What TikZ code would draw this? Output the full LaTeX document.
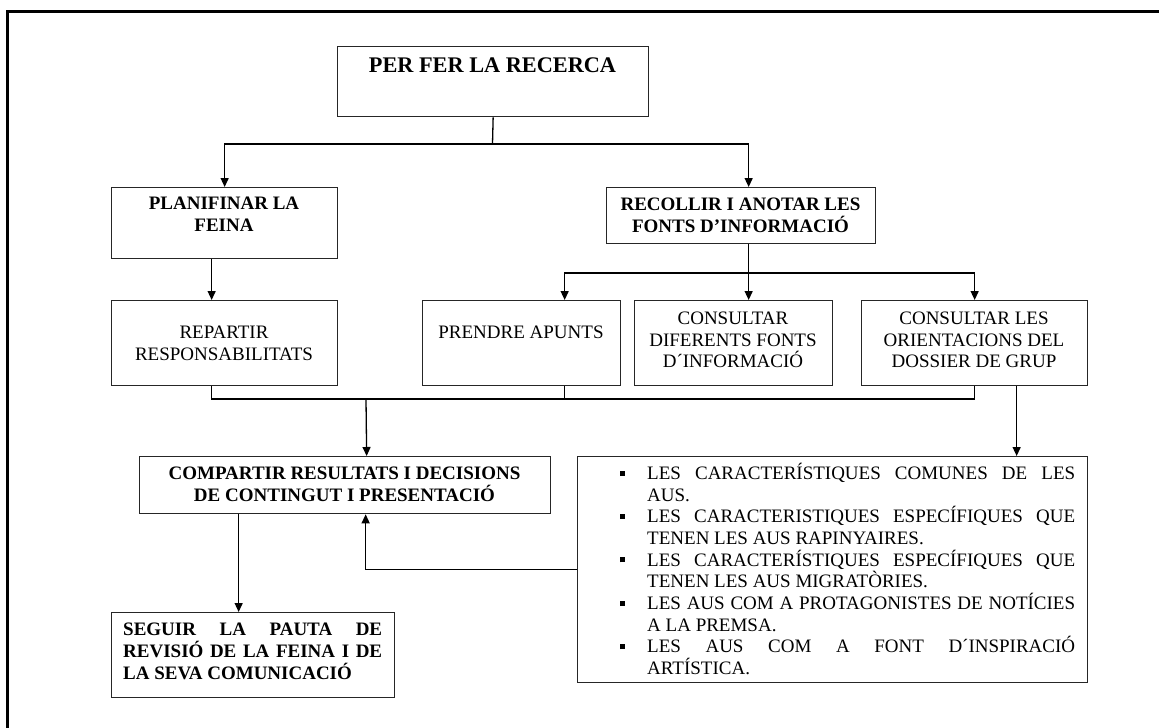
\documentclass[tikz,border=0pt]{standalone}
\usepackage{fontspec}
\setmainfont{Liberation Serif}
\usetikzlibrary{arrows.meta}
\newcommand\fnorm{\fontsize{19}{21.7}\selectfont}
\newcommand\fbold{\fontsize{19}{21.9}\selectfont\bfseries}
\newcommand\ftitle{\fontsize{22.3}{26}\selectfont\bfseries}
\newcommand\bul{\rule[3.8pt]{5pt}{5pt}}
\newcommand\jline[1]{\makebox[428pt][s]{#1}}
\begin{document}
\begin{tikzpicture}[x=1pt,y=-1pt,
  box/.style={draw=black!85, line width=1.3pt, inner sep=0pt, anchor=north west, rectangle},
  lbl/.style={inner sep=0pt, anchor=base, align=center},
  conn/.style={draw=black, line width=1.3pt},
  arr/.style={conn, -{Triangle[width=8pt,length=9pt]}},
]
\useasboundingbox (0,0) rectangle (1159,728);
\begin{scope}
  \clip (0,0) rectangle (1159,728);
  \draw[line width=3pt] (7,740) -- (7,11) -- (1170,11);
\end{scope}

% boxes
\node[box, minimum width=311pt, minimum height=70pt] (title) at (337,46) {};
\node[box, minimum width=226pt, minimum height=71pt] (plan) at (111,187) {};
\node[box, minimum width=269pt, minimum height=56pt] (recollir) at (606,187) {};
\node[box, minimum width=226pt, minimum height=85pt] (repartir) at (111,300) {};
\node[box, minimum width=198pt, minimum height=85pt] (prendre) at (422,300) {};
\node[box, minimum width=198pt, minimum height=85pt] (consdif) at (634,300) {};
\node[box, minimum width=226pt, minimum height=85pt] (consles) at (861,300) {};
\node[box, minimum width=411pt, minimum height=57pt] (compartir) at (139,456) {};
\node[box, minimum width=510pt, minimum height=226pt] (llista) at (577,456) {};
\node[box, minimum width=283pt, minimum height=85pt] (seguir) at (111,612) {};

% texts (base anchor = baseline of the last line)
\node[lbl, font=\ftitle] (titleT) at (492.5,72) {PER FER LA RECERCA};
\node[lbl, font=\fbold] (planT) at (224,231.2) {PLANIFINAR LA\\FEINA};
\node[lbl, font=\fnorm] (repT) at (224,360.0) {REPARTIR\\RESPONSABILITATS};
\node[lbl, font=\fbold] (recT) at (740.5,232.2) {RECOLLIR I ANOTAR LES\\FONTS D’INFORMACIÓ};
\node[lbl, font=\fnorm] (prenT) at (521,338.3) {PRENDRE APUNTS};
\node[lbl, font=\fnorm] (cdifT) at (733,367.7) {CONSULTAR\\DIFERENTS FONTS\\D´INFORMACIÓ};
\node[lbl, font=\fnorm] (clesT) at (974,367.7) {CONSULTAR LES\\ORIENTACIONS DEL\\DOSSIER DE GRUP};
\node[lbl, font=\fbold] (compT) at (344.5,501.2) {COMPARTIR RESULTATS I DECISIONS\\DE CONTINGUT I PRESENTACIÓ};
\node[lbl, anchor=base west, align=left, font=\fbold] (segT) at (123,679.1)
  {\makebox[259pt][s]{SEGUIR LA PAUTA DE}\\\makebox[259pt][s]{REVISIÓ DE LA FEINA I DE}\\LA SEVA COMUNICACIÓ};
\node[lbl, anchor=base west, align=left, font=\fnorm] (listT) at (620,674.6)
  {\bul\hspace{22pt}\jline{LES CARACTERÍSTIQUES COMUNES DE LES}\\
   \hspace*{27pt}AUS.\\
   \bul\hspace{22pt}\jline{LES CARACTERISTIQUES ESPECÍFIQUES QUE}\\
   \hspace*{27pt}TENEN LES AUS RAPINYAIRES.\\
   \bul\hspace{22pt}\jline{LES CARACTERÍSTIQUES ESPECÍFIQUES QUE}\\
   \hspace*{27pt}TENEN LES AUS MIGRATÒRIES.\\
   \bul\hspace{22pt}\jline{LES AUS COM A PROTAGONISTES DE NOTÍCIES}\\
   \hspace*{27pt}A LA PREMSA.\\
   \bul\hspace{22pt}\jline{LES AUS COM A FONT D´INSPIRACIÓ}\\
   \hspace*{27pt}ARTÍSTICA.};

% connectors
\coordinate (j1) at (492.5,144);
\draw[conn] (title.south) -- (j1);
\draw[arr] (j1) -| (plan.north);
\draw[arr] (j1) -| ([xshift=7.5pt]recollir.north);
\draw[arr] ([xshift=-13pt]plan.south) -- ([xshift=-13pt]repartir.north);

\coordinate (j2) at (748,273);
\draw[arr] ([xshift=7.5pt]recollir.south) -- ([xshift=15pt]consdif.north);
\draw[arr] (j2) -| ([xshift=43pt]prendre.north);
\draw[arr] (j2) -| (consles.north);

\coordinate (j3) at (366,399);
\draw[conn] ([xshift=-13pt]repartir.south) |- (j3);
\draw[conn] ([xshift=43pt]prendre.south) |- (j3);
\draw[conn] (consles.south) |- (j3);
\draw[arr] (j3) -- ([xshift=21.5pt]compartir.north);
\draw[arr] ([xshift=42pt]consles.south) -- ([xshift=42pt]consles.south |- llista.north);
\draw[arr] (llista.west) -| ([xshift=20.5pt]compartir.south);
\draw[arr] ([xshift=-106.5pt]compartir.south) -- ([xshift=-106.5pt]compartir.south |- seguir.north);
\end{tikzpicture}
\end{document}
